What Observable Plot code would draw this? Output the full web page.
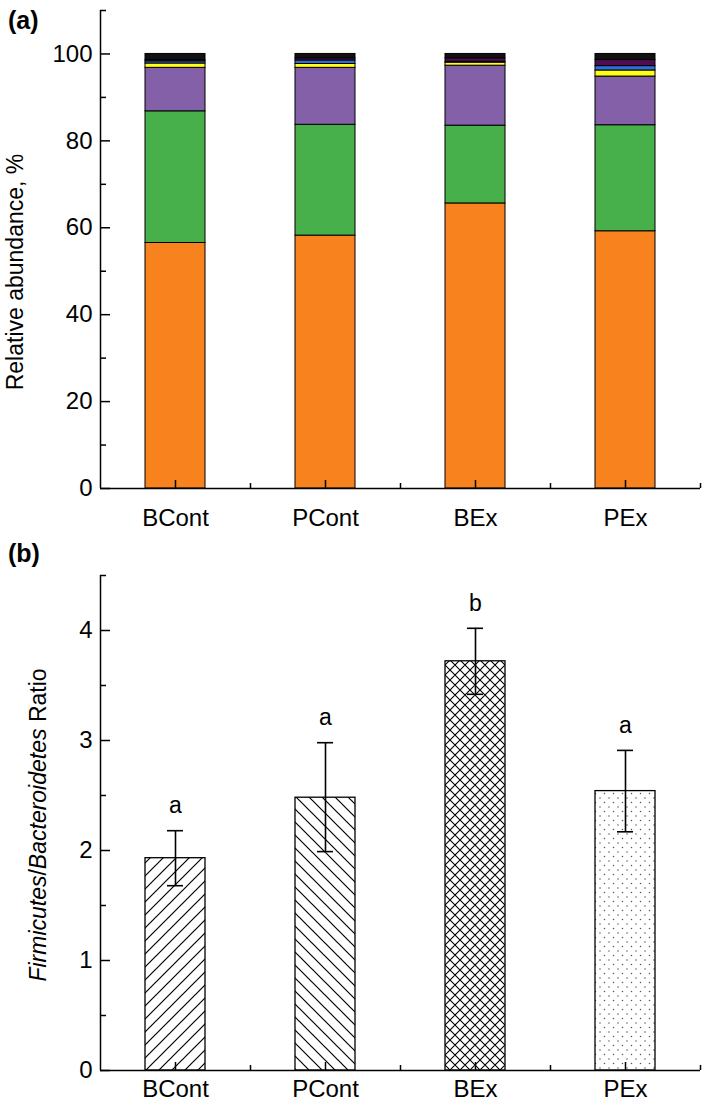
<!DOCTYPE html>
<html><head><meta charset="utf-8">
<script src="https://cdn.jsdelivr.net/npm/d3@7"></script>
<script src="https://cdn.jsdelivr.net/npm/@observablehq/plot@0.6"></script>
<style>
body{margin:0;background:#fff;font-family:"Liberation Sans",Arial,sans-serif;}
.panel{width:709px;}
svg{display:block;}
</style></head><body>
<div id="pa" class="panel"></div>
<div id="pb" class="panel"></div>
<script>
// ---------- data ----------
const groups = ["BCont", "PCont", "BEx", "PEx"];
const taxa = ["Firmicutes", "Bacteroidetes", "Proteobacteria", "Actinobacteria", "Verrucomicrobia", "Tenericutes", "Others"];
const taxaColors = ["#F8821D", "#47B04B", "#8360A8", "#FFFF1A", "#2E6FD8", "#4E0D52", "#111111"];
const firmicutes     = [56.5, 58.2, 65.6, 59.2];
const bacteroidetes  = [30.3, 25.5, 17.9, 24.4];
const proteobacteria = [10.0, 13.1, 13.8, 11.2];
const actinobacteria = [1.0, 0.9, 0.7, 1.4];
const verrucomicrobia= [0.5, 0.8, 0.2, 1.0];
const tenericutes    = [0.3, 0.5, 0.8, 1.4];
const others         = [1.4, 1.0, 1.0, 1.4];
const abundTicks = [0, 20, 40, 60, 80, 100];
const abundMinor = [10, 30, 50, 70, 90, 110];

const fbRatio = [1.93, 2.48, 3.72, 2.54];
const fbLow   = [1.68, 1.99, 3.42, 2.17];
const fbHigh  = [2.18, 2.98, 4.02, 2.91];
const sigLetters = ["a", "a", "b", "a"];
const ratioTicks = [0, 1, 2, 3, 4];
const ratioMinor = [0.5, 1.5, 2.5, 3.5, 4.5];
const patternIds = ["hatchFwd", "hatchBack", "crossHatch", "dots"];

// ---------- layout ----------
const FONT = '"Liberation Sans", Arial, Helvetica, sans-serif';
const W = 709, ML = 100, MR = 9;
const innerW = W - ML - MR;
const halfStep = innerW / groups.length / 2;
const TICKFONT = 24;
const xOpts = {domain: groups, paddingInner: 0.6, paddingOuter: 0.3, align: 0.5, label: null};
const baseStyle = {fontFamily: FONT, fontSize: "22px", color: "#000", background: "#fff", overflow: "visible"};

function axisFrame(yTop, major, minor, xPad) {
  return [
    Plot.ruleY([0], {stroke: "#000", strokeWidth: 1.5}),
    Plot.ruleX([groups[0]], {y1: () => 0, y2: () => yTop, dx: -halfStep, stroke: "#000", strokeWidth: 1.5}),
    Plot.ruleY(major, {insetRight: innerW - 10, stroke: "#000", strokeWidth: 1.5}),
    Plot.ruleY(minor, {insetRight: innerW - 6, stroke: "#000", strokeWidth: 1.5}),
    Plot.ruleX(groups, {y1: () => 0, y2: () => 0, insetBottom: 8, stroke: "#000", strokeWidth: 1.5}),
    Plot.ruleX(groups, {y1: () => 0, y2: () => 0, insetBottom: 5, dx: halfStep, stroke: "#000", strokeWidth: 1.5}),
    Plot.axisX({tickSize: 0, tickPadding: xPad, fontSize: TICKFONT}),
    Plot.axisY({ticks: major, tickSize: 0, tickPadding: 8, fontSize: TICKFONT, tickFormat: d3.format("~f")})
  ];
}

// ---------- panel (a) ----------
const series = [firmicutes, bacteroidetes, proteobacteria, actinobacteria, verrucomicrobia, tenericutes, others];
const stackData = [];
groups.forEach((g, i) => taxa.forEach((t, j) => stackData.push({group: g, taxon: t, value: series[j][i]})));

const svgA = Plot.plot({
  width: W, height: 540, marginTop: 10, marginBottom: 52, marginLeft: ML, marginRight: MR,
  style: baseStyle,
  x: xOpts,
  y: {domain: [0, 110], label: null},
  color: {domain: taxa, range: taxaColors},
  marks: [
    Plot.barY(stackData, {x: "group", y: "value", fill: "taxon", stroke: "#000", strokeWidth: 1}),
    ...axisFrame(110, abundTicks, abundMinor, 20)
  ]
});
document.getElementById("pa").append(svgA);
const sa = d3.select(svgA);
sa.append("text").attr("x", 8).attr("y", 29).attr("text-anchor", "start").attr("font-weight", "bold").attr("font-size", 25).text("(a)");
sa.append("text").attr("transform", "translate(23,272) rotate(-90)").attr("text-anchor", "middle")
  .attr("font-size", 23).text("Relative abundance, %");

// ---------- panel (b) ----------
const ratioData = groups.map((g, i) => ({group: g, ratio: fbRatio[i], lo: fbLow[i], hi: fbHigh[i], letter: sigLetters[i], pat: `url(#${patternIds[i]})`}));

const svgB = Plot.plot({
  width: W, height: 563, marginTop: 35, marginBottom: 33, marginLeft: ML, marginRight: MR,
  style: baseStyle,
  x: xOpts,
  y: {domain: [0, 4.5], label: null},
  color: {type: "identity"},
  marks: [
    Plot.barY(ratioData, {x: "group", y: "ratio", fill: "pat", stroke: "#000", strokeWidth: 1.3}),
    Plot.ruleX(ratioData, {x: "group", y1: "lo", y2: "hi", stroke: "#000", strokeWidth: 1.6}),
    Plot.tickY(ratioData, {x: "group", y: "lo", insetLeft: 22, insetRight: 22, stroke: "#000", strokeWidth: 1.6}),
    Plot.tickY(ratioData, {x: "group", y: "hi", insetLeft: 22, insetRight: 22, stroke: "#000", strokeWidth: 1.6}),
    Plot.text(ratioData, {x: "group", y: "hi", text: "letter", dy: -25, fontSize: 23}),
    ...axisFrame(4.5, ratioTicks, ratioMinor, 9)
  ]
});
document.getElementById("pb").append(svgB);
const sb = d3.select(svgB);
const defs = sb.insert("defs", ":first-child");
function pattern(id, s, draw) {
  const p = defs.append("pattern").attr("id", id).attr("patternUnits", "userSpaceOnUse")
    .attr("width", s).attr("height", s);
  p.append("rect").attr("width", s).attr("height", s).attr("fill", "#fff");
  draw(p, s);
}
const fwd = s => `M0,${s} L${s},0 M${-s/2},${s/2} L${s/2},${-s/2} M${s/2},${s*1.5} L${s*1.5},${s/2}`;
const back = s => `M0,0 L${s},${s} M${-s/2},${s/2} L${s/2},${s*1.5} M${s/2},${-s/2} L${s*1.5},${s/2}`;
pattern("hatchFwd", 13, (p, s) => p.append("path").attr("d", fwd(s)).attr("stroke", "#000").attr("stroke-width", 1.2));
pattern("hatchBack", 13, (p, s) => p.append("path").attr("d", back(s)).attr("stroke", "#000").attr("stroke-width", 1.2));
pattern("crossHatch", 10, (p, s) => p.append("path").attr("d", fwd(s) + " " + back(s)).attr("stroke", "#000").attr("stroke-width", 1.1));
pattern("dots", 9, (p, s) => {
  p.append("circle").attr("cx", 1.5).attr("cy", 1.5).attr("r", 0.75).attr("fill", "#555");
  p.append("circle").attr("cx", 6).attr("cy", 6).attr("r", 0.75).attr("fill", "#555");
});
sb.append("text").attr("x", 8).attr("y", 22).attr("text-anchor", "start").attr("font-weight", "bold").attr("font-size", 25).text("(b)");
const yl = sb.append("text").attr("transform", "translate(46,285) rotate(-90)").attr("text-anchor", "middle").attr("font-size", 23);
yl.append("tspan").attr("font-style", "italic").text("Firmicutes");
yl.append("tspan").text("/");
yl.append("tspan").attr("font-style", "italic").text("Bacteroidetes");
yl.append("tspan").text(" Ratio");
</script>
</body></html>
